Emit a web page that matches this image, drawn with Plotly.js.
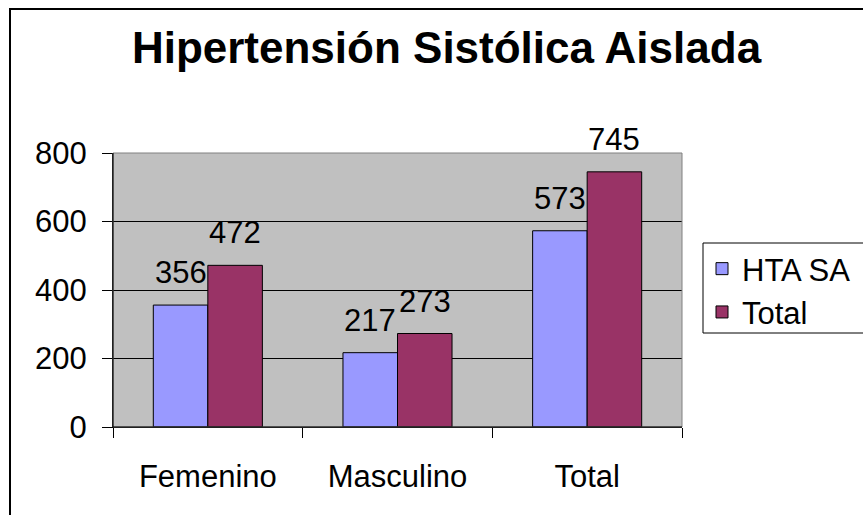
<!DOCTYPE html>
<html>
<head>
<meta charset="utf-8">
<script src="https://cdn.plot.ly/plotly-3.0.1.min.js"></script>
<style>html,body{margin:0;padding:0;background:#fff;}#chart{width:863px;height:515px;}</style>
</head>
<body>
<div id="chart"></div>
<script>
const categories = ["Femenino", "Masculino", "Total"];
const htaSA = [356, 217, 573];
const totals = [472, 273, 745];
const seriesNames = ["HTA SA", "Total"];
const yTicks = [0, 200, 400, 600, 800];

const W = 863, H = 515;
const M = {l: 113, r: 181, t: 153, b: 88, autoexpand: false};
const bargap = 0.425;
const plotW = W - M.l - M.r;
const plotH = H - M.t - M.b;
const catW = plotW / categories.length;
const barW = catW * (1 - bargap) / 2;
const FONT = "Arial, 'Liberation Sans', sans-serif";
const px2x = p => (p - M.l) / plotW;
const px2y = p => (H - M.b - p) / plotH;

const traces = [
  {type: "bar", name: seriesNames[0], x: categories, y: htaSA,
   marker: {color: "#9999FF", line: {color: "#000", width: 1}}},
  {type: "bar", name: seriesNames[1], x: categories, y: totals,
   marker: {color: "#993366", line: {color: "#000", width: 1}}}
];

const annotations = [];
[htaSA, totals].forEach((vals, s) => {
  vals.forEach((v, i) => {
    annotations.push({x: categories[i], y: v, xref: "x", yref: "y", text: String(v),
      showarrow: false, xanchor: "center", yanchor: "bottom",
      xshift: (s === 0 ? -1 : 1) * barW / 2, yshift: 13,
      font: {family: FONT, size: 31, color: "#000"}});
  });
});

const layout = {
  width: W, height: H,
  margin: M,
  paper_bgcolor: "#fff",
  plot_bgcolor: "#C0C0C0",
  barmode: "group", bargap: bargap, bargroupgap: 0,
  title: {text: "Hipertensión Sistólica Aislada", font: {family: FONT, size: 44, color: "#000", weight: "bold"},
    x: 446.5 / W, xref: "container", xanchor: "center", y: 1 - 32 / H, yref: "container", yanchor: "top"},
  xaxis: {type: "category", tickson: "boundaries", ticks: "outside", ticklen: 10, tickcolor: "#000",
    showline: true, linecolor: "#000", linewidth: 1, showgrid: false, automargin: false,
    tickfont: {family: FONT, size: 31, color: "#000"}, ticklabelstandoff: 22},
  yaxis: {range: [0, 800], tickvals: yTicks, ticks: "outside", ticklen: 10, tickcolor: "#000",
    showline: true, linecolor: "#000", linewidth: 1, showgrid: true, gridcolor: "#000", gridwidth: 1,
    zeroline: true, zerolinecolor: "#000", automargin: false,
    tickfont: {family: FONT, size: 31, color: "#000"}, ticklabelstandoff: 9},
  showlegend: true,
  legend: {x: px2x(702), y: px2y(242), xanchor: "left", yanchor: "top",
    bgcolor: "rgba(0,0,0,0)", borderwidth: 0,
    font: {family: FONT, size: 31, color: "#000"}, itemwidth: 30},
  annotations: annotations,
  shapes: [
    {type: "rect", xref: "paper", yref: "paper", x0: 0, x1: 1, y0: 0, y1: 1,
     line: {color: "#808080", width: 1}, layer: "above"},
    {type: "line", xref: "paper", yref: "paper", x0: 0, x1: 0, y0: 0, y1: 1,
     line: {color: "#000", width: 1}, layer: "above"},
    {type: "line", xref: "paper", yref: "paper", x0: 0, x1: 1, y0: 0, y1: 0,
     line: {color: "#000", width: 1}, layer: "above"},
    {type: "rect", xref: "paper", yref: "paper",
     x0: px2x(703), x1: px2x(900), y0: px2y(333), y1: px2y(243),
     line: {color: "#000", width: 1}, fillcolor: "rgba(0,0,0,0)", layer: "above"},
    {type: "rect", xref: "paper", yref: "paper",
     x0: px2x(10), x1: 2, y0: -1, y1: px2y(9),
     line: {color: "#000", width: 2}, layer: "above"}
  ]
};

Plotly.newPlot("chart", traces, layout, {displayModeBar: false, staticPlot: true});
</script>
</body>
</html>
